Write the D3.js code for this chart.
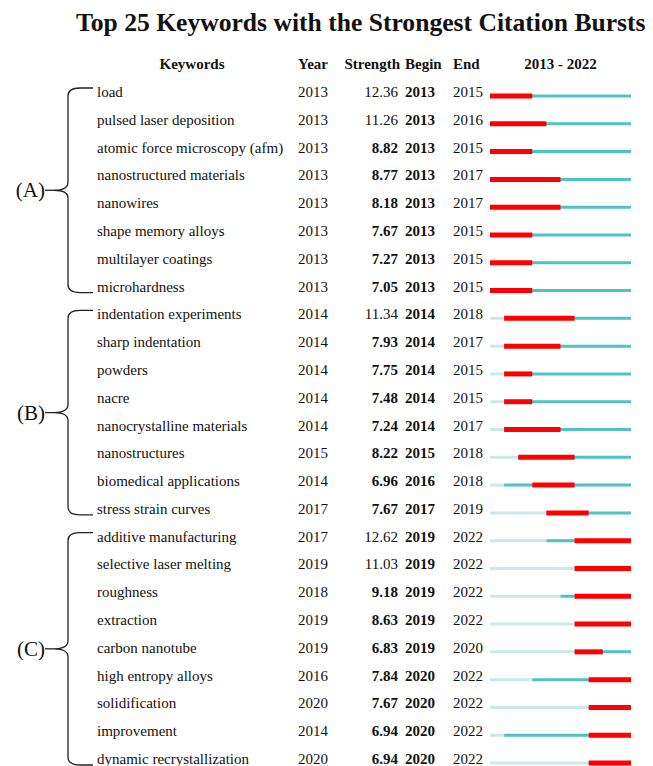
<!DOCTYPE html>
<html>
<head>
<meta charset="utf-8">
<script src="https://cdn.jsdelivr.net/npm/d3@7"></script>
<style>
  html, body { margin: 0; padding: 0; background: #fff; }
  svg { display: block; }
  text { font-family: "Liberation Serif", "Times New Roman", serif; fill: #111; }
</style>
</head>
<body>
<svg id="chart" width="653" height="766"></svg>
<script>
// Keyword burst table
const keywords = [
  "load", "pulsed laser deposition", "atomic force microscopy (afm)", "nanostructured materials",
  "nanowires", "shape memory alloys", "multilayer coatings", "microhardness",
  "indentation experiments", "sharp indentation", "powders", "nacre",
  "nanocrystalline materials", "nanostructures", "biomedical applications", "stress strain curves",
  "additive manufacturing", "selective laser melting", "roughness", "extraction",
  "carbon nanotube", "high entropy alloys", "solidification", "improvement",
  "dynamic recrystallization"
];
const firstYear = [2013, 2013, 2013, 2013, 2013, 2013, 2013, 2013,
                   2014, 2014, 2014, 2014, 2014, 2015, 2014, 2017,
                   2017, 2019, 2018, 2019, 2019, 2016, 2020, 2014, 2020];
const strength = [12.36, 11.26, 8.82, 8.77, 8.18, 7.67, 7.27, 7.05,
                  11.34, 7.93, 7.75, 7.48, 7.24, 8.22, 6.96, 7.67,
                  12.62, 11.03, 9.18, 8.63, 6.83, 7.84, 7.67, 6.94, 6.94];
const burstBegin = [2013, 2013, 2013, 2013, 2013, 2013, 2013, 2013,
                    2014, 2014, 2014, 2014, 2014, 2015, 2016, 2017,
                    2019, 2019, 2019, 2019, 2019, 2020, 2020, 2020, 2020];
const burstEnd = [2015, 2016, 2015, 2017, 2017, 2015, 2015, 2015,
                  2018, 2017, 2015, 2015, 2017, 2018, 2018, 2019,
                  2022, 2022, 2022, 2022, 2020, 2022, 2022, 2022, 2022];
const groupLabels = ["(A)", "(B)", "(C)"];
const groupStart = [0, 8, 16];
const groupEnd = [7, 15, 24];
const yearStart = 2013, yearStop = 2022;

const rows = keywords.map((k, i) => ({
  keyword: k, year: firstYear[i], strength: strength[i], begin: burstBegin[i], end: burstEnd[i]
}));

const svg = d3.select("#chart");

const y = d3.scalePoint().domain(d3.range(rows.length)).range([92, 759]);
const x = d3.scaleLinear().domain([yearStart, yearStop + 1]).range([490, 631]);

const col = { keyword: 97, year: 298, strengthRight: 398, begin: 405, end: 453 };
const fs = "15px";

// Title
svg.append("text")
  .attr("x", 76).attr("y", 31)
  .style("font-size", "25.6px").style("font-weight", "bold")
  .text("Top 25 Keywords with the Strongest Citation Bursts");

// Header
const header = svg.append("g").style("font-size", fs).style("font-weight", "bold");
header.append("text").attr("x", 192).attr("y", 69).attr("text-anchor", "middle").text("Keywords");
header.append("text").attr("x", col.year).attr("y", 69).text("Year");
header.append("text").attr("x", col.strengthRight + 2).attr("y", 69).attr("text-anchor", "end").text("Strength");
header.append("text").attr("x", col.begin).attr("y", 69).text("Begin");
header.append("text").attr("x", col.end).attr("y", 69).text("End");
header.append("text").attr("x", (x.range()[0] + x.range()[1]) / 2).attr("y", 69)
  .attr("text-anchor", "middle").text(`${yearStart} - ${yearStop}`);

// Rows
const row = svg.append("g").selectAll("g").data(rows).join("g")
  .attr("transform", (d, i) => `translate(0,${y(i)})`)
  .style("font-size", fs);

row.append("text").attr("x", col.keyword).attr("dy", 5).text(d => d.keyword);
row.append("text").attr("x", col.year).attr("dy", 5).text(d => d.year);
row.append("text").attr("x", col.strengthRight).attr("dy", 5).attr("text-anchor", "end")
  .style("font-weight", d => d.strength < 10 ? "bold" : "normal")
  .text(d => d.strength.toFixed(2));
row.append("text").attr("x", col.begin).attr("dy", 5).style("font-weight", "bold").text(d => d.begin);
row.append("text").attr("x", col.end).attr("dy", 5).text(d => d.end);

// Timeline: before first appearance (light), present (teal), burst (red)
const by = 4;
row.append("line")
  .attr("x1", x(yearStart)).attr("x2", d => x(d.year))
  .attr("y1", by).attr("y2", by)
  .attr("stroke", "#cce8e8").attr("stroke-width", 3);
row.append("line")
  .attr("x1", d => x(d.year)).attr("x2", x(yearStop + 1))
  .attr("y1", by).attr("y2", by)
  .attr("stroke", "#4fc2c2").attr("stroke-width", 3);
row.append("line")
  .attr("x1", d => x(d.begin)).attr("x2", d => x(d.end + 1))
  .attr("y1", by).attr("y2", by)
  .attr("stroke", "#ff0000").attr("stroke-width", 5);

// Group braces
const brace = svg.append("g");
groupLabels.forEach((lab, g) => {
  const top = y(groupStart[g]) - 4;
  const bot = y(groupEnd[g]) + 6;
  const mid = (top + bot) / 2;
  const vx = 68, tx = 93, px = 54, r = 8;
  const p = d3.path();
  p.moveTo(tx, top);
  p.lineTo(vx + r + 4, top);
  p.quadraticCurveTo(vx, top, vx, top + r);
  p.lineTo(vx, mid - r);
  p.quadraticCurveTo(vx, mid, px, mid);
  p.quadraticCurveTo(vx, mid, vx, mid + r);
  p.lineTo(vx, bot - r);
  p.quadraticCurveTo(vx, bot, vx + r + 4, bot);
  p.lineTo(tx, bot);
  brace.append("path").attr("d", p.toString())
    .attr("fill", "none").attr("stroke", "#222").attr("stroke-width", 1.3);
  brace.append("line").attr("x1", 45).attr("x2", px).attr("y1", mid).attr("y2", mid)
    .attr("stroke", "#222").attr("stroke-width", 1.3);
  brace.append("text").attr("x", 45).attr("y", mid).attr("dy", 7)
    .attr("text-anchor", "end").style("font-size", "21px").text(lab);
});
</script>
</body>
</html>
